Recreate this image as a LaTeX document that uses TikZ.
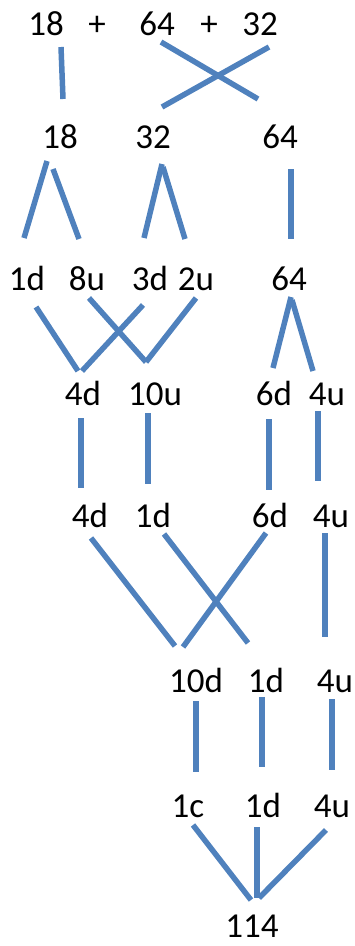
\documentclass[tikz,border=0pt]{standalone}
\usepackage{fontspec}
\setmainfont{Carlito}
\definecolor{linkblue}{RGB}{79,129,189}
\begin{document}
\begin{tikzpicture}[x=1pt,y=-1pt,
  lbl/.style={anchor=base,inner sep=0pt,font=\fontsize{35}{42}\selectfont},
  link/.style={draw=linkblue,line width=5.5pt}]
\useasboundingbox (0,0) rectangle (354,946);
% row 1
\node[lbl] (r1a) at (46,35) {18};
\node[lbl] (r1p) at (97,35) {+};
\node[lbl] (r1b) at (157,35) {64};
\node[lbl] (r1q) at (209,35) {+};
\node[lbl] (r1c) at (260,35) {32};
% row 2
\node[lbl] (r2a) at (60,148) {18};
\node[lbl] (r2b) at (153,148) {32};
\node[lbl] (r2c) at (280,148) {64};
% row 3
\node[lbl] (r3a) at (27,290) {1d};
\node[lbl] (r3b) at (87,290) {8u};
\node[lbl] (r3c) at (150,290) {3d};
\node[lbl] (r3d) at (196,290) {2u};
\node[lbl] (r3e) at (289,290) {64};
% row 4
\node[lbl] (r4a) at (83,405) {4d};
\node[lbl] (r4b) at (155,405) {10u};
\node[lbl] (r4c) at (274,405) {6d};
\node[lbl] (r4d) at (327,405) {4u};
% row 5
\node[lbl] (r5a) at (90,527) {4d};
\node[lbl] (r5b) at (153,527) {1d};
\node[lbl] (r5c) at (270,527) {6d};
\node[lbl] (r5d) at (331,527) {4u};
% row 6
\node[lbl] (r6a) at (196,692) {10d};
\node[lbl] (r6b) at (266,692) {1d};
\node[lbl] (r6c) at (335,692) {4u};
% row 7
\node[lbl] (r7a) at (188,817) {1c};
\node[lbl] (r7b) at (263,817) {1d};
\node[lbl] (r7c) at (332,817) {4u};
% result
\node[lbl] (res) at (252,937) {114};

% connector end points
\coordinate (a1) at (61,47);   \coordinate (a2) at (63,99);
\coordinate (b1) at (161,42);  \coordinate (b2) at (258,99);
\coordinate (c1) at (269,47);  \coordinate (c2) at (162,107);
\coordinate (d1) at (47,161);  \coordinate (d2) at (24,238);
\coordinate (e1) at (53,169);  \coordinate (e2) at (79,239);
\coordinate (f1) at (162,164); \coordinate (f2) at (144,238);
\coordinate (g1) at (163,167); \coordinate (g2) at (185,239);
\coordinate (h1) at (291,169); \coordinate (h2) at (291,239);
\coordinate (i1) at (36,307);  \coordinate (i2) at (78,371);
\coordinate (j1) at (143,305); \coordinate (j2) at (82,371);
\coordinate (k1) at (89,298);  \coordinate (k2) at (146,362);
\coordinate (l1) at (196,298); \coordinate (l2) at (146,362);
\coordinate (m1) at (291,297); \coordinate (m2) at (273,368);
\coordinate (n1) at (292,300); \coordinate (n2) at (313,371);
\coordinate (o1) at (81,418);  \coordinate (o2) at (81,488);
\coordinate (p1) at (148,413); \coordinate (p2) at (148,484);
\coordinate (q1) at (269,419); \coordinate (q2) at (269,490);
\coordinate (s1) at (318,411); \coordinate (s2) at (318,481);
\coordinate (t1) at (91,538);  \coordinate (t2) at (175,646);
\coordinate (u1) at (164,534); \coordinate (u2) at (248,643);
\coordinate (v1) at (266,533); \coordinate (v2) at (183,647);
\coordinate (w1) at (325,533); \coordinate (w2) at (325,637);
\coordinate (x1) at (196,701); \coordinate (x2) at (196,772);
\coordinate (y1) at (262,697); \coordinate (y2) at (262,767);
\coordinate (z1) at (332,699); \coordinate (z2) at (332,770);
\coordinate (aa1) at (193,825); \coordinate (aa2) at (251,900);
\coordinate (bb1) at (257,827); \coordinate (bb2) at (257,898);
\coordinate (cc1) at (326,830); \coordinate (cc2) at (259,898);

\foreach \s/\e in {a1/a2,b1/b2,c1/c2,d1/d2,e1/e2,f1/f2,g1/g2,h1/h2,
  i1/i2,j1/j2,k1/k2,l1/l2,m1/m2,n1/n2,o1/o2,p1/p2,q1/q2,s1/s2,
  t1/t2,u1/u2,v1/v2,w1/w2,x1/x2,y1/y2,z1/z2,aa1/aa2,bb1/bb2,cc1/cc2}
  \draw[link] (\s) -- (\e);
\end{tikzpicture}
\end{document}
